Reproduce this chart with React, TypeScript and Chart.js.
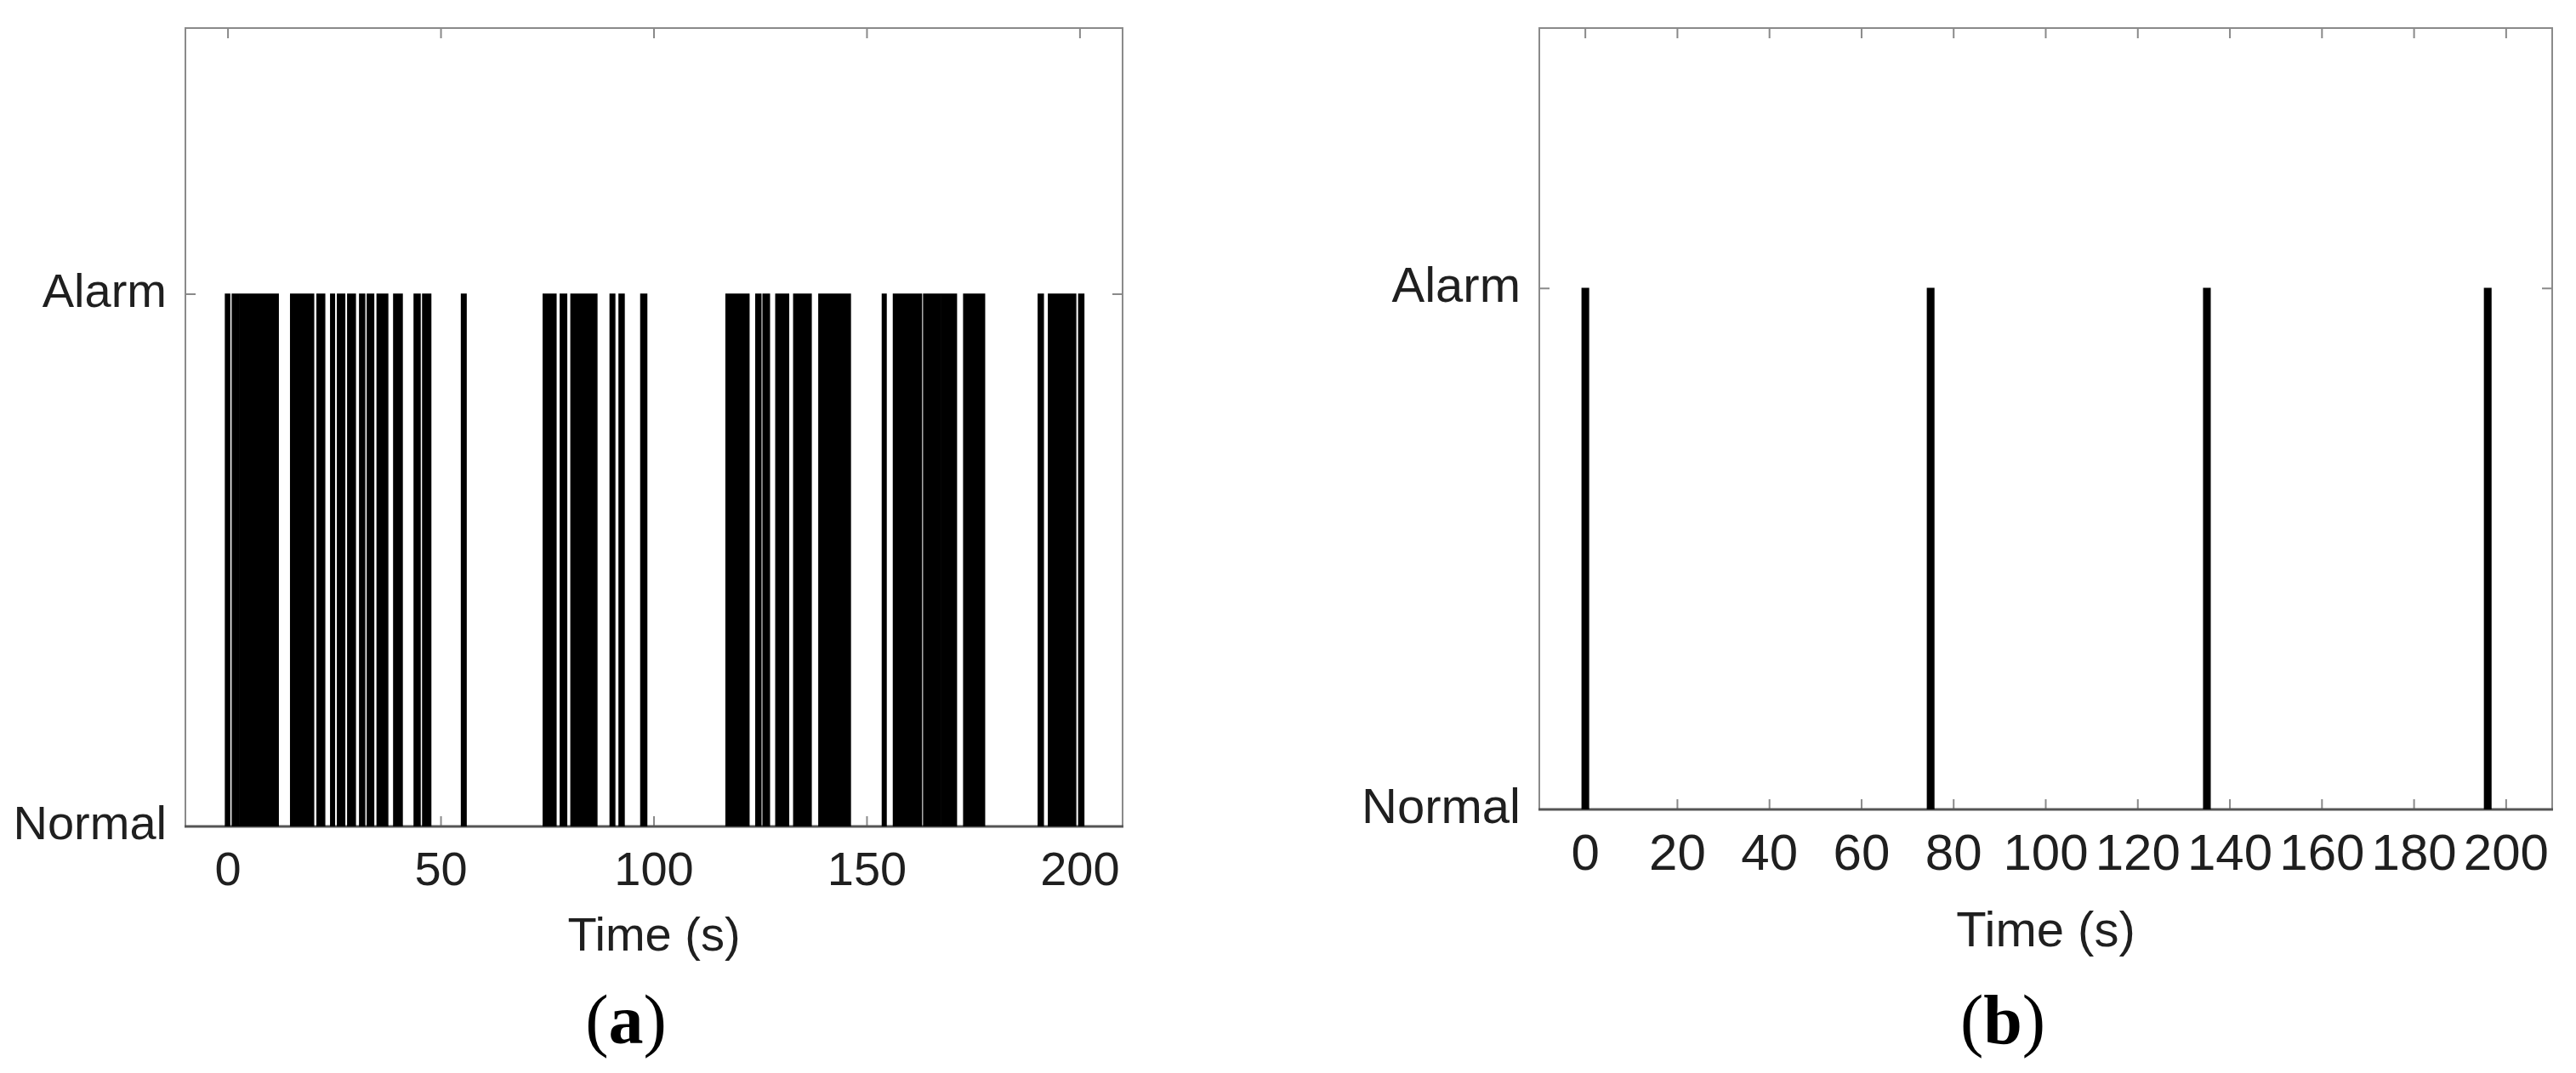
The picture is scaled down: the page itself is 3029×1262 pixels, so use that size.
import React, { useEffect, useRef } from "react";
import { Chart, registerables } from "chart.js";

Chart.register(...registerables);

// ---- data ----
const yTickValues = [0, 1];
const yTickLabels = ["Normal", "Alarm"];

const xTicksA = [0, 50, 100, 150, 200];
const alarmStartsA = [-0.6, 1.0, 2.6, 14.7, 20.9, 24.1, 25.7, 28.1, 30.9, 32.7, 35.0, 38.9, 43.7, 45.7, 54.8, 74.0, 78.0, 80.5, 89.7, 91.8, 96.9, 116.9, 123.9, 125.6, 128.6, 132.8, 138.7, 142.3, 153.6, 156.2, 163.3, 167.3, 172.7, 190.2, 192.6, 199.7];
const alarmEndsA = [0.4, 2.3, 11.8, 20.1, 22.7, 25.0, 27.4, 29.9, 32.1, 34.2, 37.5, 40.9, 45.1, 47.6, 55.9, 77.0, 79.5, 86.6, 90.8, 93.0, 98.3, 122.3, 125.1, 127.1, 131.6, 136.9, 142.0, 146.1, 154.5, 162.8, 167.0, 171.0, 177.6, 191.4, 199.0, 200.9];

const xTicksB = [0, 20, 40, 60, 80, 100, 120, 140, 160, 180, 200];
const alarmStartsB = [-0.7, 74.3, 134.3, 195.3];
const alarmEndsB = [0.7, 75.7, 135.7, 196.7];

const X_MIN = -10;
const X_MAX = 210;
const Y_MIN = 0;
const Y_MAX = 1.5;

const SANS = '"Liberation Sans", Arial, Helvetica, sans-serif';
const TEXT_COLOR = "#1f1f1f";

function pulsePoints(starts: number[], ends: number[]) {
  const pts: { x: number; y: number | null }[] = [];
  starts.forEach((s, i) => {
    const e = ends[i];
    pts.push({ x: s, y: 0 }, { x: s, y: 1 }, { x: e, y: 1 }, { x: e, y: 0 }, { x: e, y: null });
  });
  return pts;
}

const boxPlugin = {
  id: "matlabBox",
  beforeDatasetsDraw(chart: any, _args: any, opts: any) {
    const { ctx, chartArea, scales } = chart;
    const { left, right, top, bottom } = chartArea;
    const len = opts.tickLen || 12;
    ctx.save();
    ctx.strokeStyle = opts.color || "#808080";
    ctx.lineWidth = opts.width || 2;
    ctx.beginPath();
    ctx.moveTo(left, bottom);
    ctx.lineTo(left, top);
    ctx.lineTo(right, top);
    ctx.lineTo(right, bottom);
    scales.x.ticks.forEach((t: any) => {
      const px = scales.x.getPixelForValue(t.value);
      ctx.moveTo(px, bottom);
      ctx.lineTo(px, bottom - len);
      ctx.moveTo(px, top);
      ctx.lineTo(px, top + len);
    });
    scales.y.ticks.forEach((t: any) => {
      const py = scales.y.getPixelForValue(t.value);
      ctx.moveTo(left, py);
      ctx.lineTo(left + len, py);
      ctx.moveTo(right, py);
      ctx.lineTo(right - len, py);
    });
    ctx.stroke();
    ctx.strokeStyle = opts.bottomColor || "#505050";
    ctx.lineWidth = opts.bottomWidth || 3;
    ctx.beginPath();
    ctx.moveTo(left - 1, bottom);
    ctx.lineTo(right + 1, bottom);
    ctx.stroke();
    ctx.restore();
  },
};

type PanelProps = {
  starts: number[];
  ends: number[];
  xTicks: number[];
  width: number;
  height: number;
  areaLeft: number;
  areaRight: number;
  areaTop: number;
  areaBottom: number;
  fontSize: number;
  tickFontSize: number;
  tickPad: number;
  lineWidth: number;
};

function Panel(p: PanelProps) {
  const ref = useRef<HTMLCanvasElement | null>(null);
  useEffect(() => {
    if (!ref.current) return;
    const chart = new Chart(ref.current, {
      type: "line",
      data: {
        datasets: [
          {
            data: pulsePoints(p.starts, p.ends) as any,
            borderColor: "#000000",
            backgroundColor: "#000000",
            borderWidth: p.lineWidth,
            pointRadius: 0,
            tension: 0,
            fill: "origin",
            spanGaps: false,
          },
        ],
      },
      options: {
        animation: false,
        responsive: false,
        maintainAspectRatio: false,
        events: [],
        layout: {
          padding: { left: 0, top: p.areaTop, right: p.width - p.areaRight, bottom: 0 },
        },
        plugins: {
          legend: { display: false },
          tooltip: { enabled: false },
          matlabBox: { color: "#8a8a8a", width: 2, bottomColor: "#555555", bottomWidth: 3, tickLen: 12 },
        } as any,
        scales: {
          x: {
            type: "linear",
            min: X_MIN,
            max: X_MAX,
            grid: { display: false, drawTicks: false },
            border: { display: false },
            afterBuildTicks: (s: any) => {
              s.ticks = p.xTicks.map((v) => ({ value: v }));
            },
            afterFit: (s: any) => {
              s.height = p.height - p.areaBottom;
              s.paddingLeft = 0;
              s.paddingRight = 0;
            },
            ticks: {
              autoSkip: false,
              maxRotation: 0,
              padding: p.tickPad,
              color: TEXT_COLOR,
              font: { family: SANS, size: p.tickFontSize },
              callback: (v: any) => String(v),
            },
            title: {
              display: true,
              text: "Time (s)",
              color: TEXT_COLOR,
              font: { family: SANS, size: p.fontSize },
              padding: { top: 0, bottom: 0 },
            },
          },
          y: {
            type: "linear",
            min: Y_MIN,
            max: Y_MAX,
            grid: { display: false, drawTicks: false },
            border: { display: false },
            afterBuildTicks: (s: any) => {
              s.ticks = yTickValues.map((v) => ({ value: v }));
            },
            afterFit: (s: any) => {
              s.width = p.areaLeft;
              s.paddingTop = 0;
              s.paddingBottom = 0;
            },
            ticks: {
              padding: 22,
              color: TEXT_COLOR,
              font: { family: SANS, size: p.fontSize },
              callback: (_v: any, i: number) => yTickLabels[i],
            },
          },
        },
      },
      plugins: [boxPlugin],
    });
    return () => chart.destroy();
  }, []);
  return <canvas ref={ref} width={p.width} height={p.height} style={{ width: p.width, height: p.height, display: "block" }} />;
}

function PanelLabel({ letter, cx, cy }: { letter: string; cx: number; cy: number }) {
  return (
    <div
      style={{
        position: "absolute",
        left: cx,
        top: cy,
        transform: "translate(-50%, -50%)",
        fontFamily: '"Liberation Serif", "Times New Roman", serif',
        fontSize: 82,
        lineHeight: 1,
        color: "#000",
        whiteSpace: "nowrap",
      }}
    >
      (<b>{letter}</b>)
    </div>
  );
}

export default function App() {
  return (
    <div style={{ position: "absolute", left: 0, top: 0, width: 3029, height: 1262, background: "#fff", overflow: "hidden" }}>
      <div style={{ position: "absolute", left: 0, top: 0 }}>
        <Panel
          starts={alarmStartsA}
          ends={alarmEndsA}
          xTicks={xTicksA}
          width={1500}
          height={1136}
          areaLeft={218}
          areaRight={1320}
          areaTop={33}
          areaBottom={972}
          fontSize={56}
          tickFontSize={56}
          tickPad={20}
          lineWidth={1.5}
        />
      </div>
      <div style={{ position: "absolute", left: 1500, top: 0 }}>
        <Panel
          starts={alarmStartsB}
          ends={alarmEndsB}
          xTicks={xTicksB}
          width={1529}
          height={1132}
          areaLeft={310}
          areaRight={1501}
          areaTop={33}
          areaBottom={952}
          fontSize={58}
          tickFontSize={60}
          tickPad={18}
          lineWidth={1.5}
        />
      </div>
      <PanelLabel letter="a" cx={736} cy={1200} />
      <PanelLabel letter="b" cx={2355} cy={1200} />
    </div>
  );
}
